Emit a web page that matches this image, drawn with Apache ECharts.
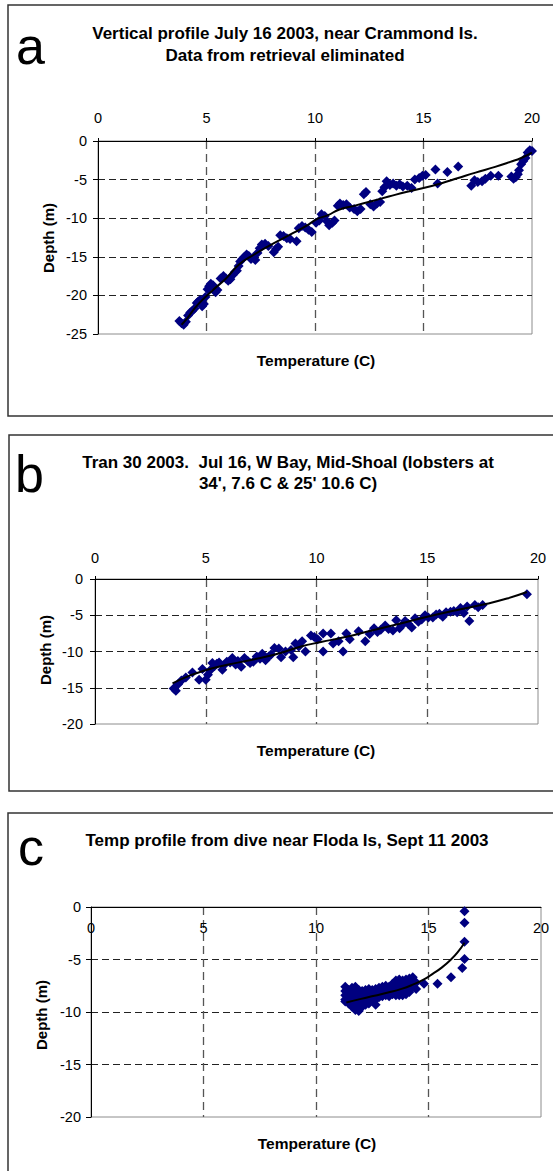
<!DOCTYPE html>
<html><head><meta charset="utf-8">
<script src="https://cdn.jsdelivr.net/npm/echarts@6/dist/echarts.min.js"></script>
<style>html,body{margin:0;padding:0;background:#fff}#c{width:553px;height:1171px}</style>
</head><body><div id="c"></div>
<script>
// ---- data (temperature C, depth m) ----
const xTickMin = 0, xTickMax = 20, tickStep = 5;

const aTitle = "Vertical profile July 16 2003, near Crammond Is.\nData from retrieval eliminated";
const aTemp = [3.75,3.85,3.95,4.05,4.15,4.25,4.35,4.45,4.55,4.62,4.7,4.8,4.88,4.95,5.05,5.12,5.2,5.3,5.42,5.5,5.65,5.78,5.9,6.0,6.1,6.2,6.3,6.4,6.48,6.55,6.65,6.75,6.85,6.95,7.05,7.15,7.25,7.35,7.45,7.55,7.7,7.85,8.1,8.2,8.3,8.4,8.55,8.7,8.85,9.15,9.25,9.4,9.55,9.7,9.85,10.05,10.2,10.3,10.45,10.55,10.65,10.8,10.9,11.05,11.15,11.3,11.45,11.6,11.8,11.95,12.1,12.25,12.35,12.55,12.7,12.85,13.0,13.1,13.2,13.3,13.45,13.6,13.75,13.9,14.05,14.25,14.45,14.6,14.8,14.95,15.1,15.55,15.65,16.1,16.6,17.2,17.35,17.5,17.7,17.85,18.1,18.45,19.05,19.15,19.25,19.35,19.4,19.5,19.6,19.7,19.8,19.9,20.0];
const aDepth = [-23.3,-23.6,-23.8,-23.4,-22.6,-22.2,-22.0,-21.7,-21.0,-20.8,-20.6,-21.4,-21.1,-20.2,-19.2,-18.8,-18.5,-18.7,-19.6,-19.3,-17.8,-17.5,-17.8,-18.1,-17.9,-17.4,-17.0,-16.8,-16.2,-15.6,-15.3,-15.0,-14.7,-14.9,-15.3,-15.1,-15.4,-14.5,-13.9,-13.4,-13.3,-13.6,-14.4,-14.0,-13.7,-12.2,-12.3,-12.6,-12.7,-13.0,-11.3,-11.0,-11.2,-11.5,-11.8,-10.6,-10.3,-9.5,-9.7,-10.4,-10.9,-10.6,-10.3,-8.4,-8.1,-8.3,-8.2,-8.6,-8.8,-9.1,-8.8,-6.9,-6.6,-8.2,-8.5,-8.1,-7.9,-6.5,-6.0,-5.2,-5.7,-5.5,-5.8,-5.6,-5.9,-5.8,-6.1,-5.0,-4.8,-4.5,-4.4,-3.7,-5.5,-4.0,-3.3,-5.8,-5.1,-5.3,-5.2,-4.9,-4.5,-4.5,-4.6,-4.9,-4.7,-4.3,-3.8,-3.0,-2.6,-2.2,-1.5,-1.2,-1.3];
const aTrendTemp  = [3.85,4.1,4.6,5.3,5.9,6.5,7.2,7.8,8.4,9.0,9.6,10.1,10.6,11.1,11.8,12.6,13.4,14.2,15.0,15.8,16.6,17.4,18.3,19.0,19.5,20.0];
const aTrendDepth = [-23.8,-23.0,-21.2,-19.3,-17.8,-16.0,-14.7,-13.7,-12.8,-11.9,-11.0,-10.1,-9.6,-8.9,-8.4,-7.8,-7.2,-6.6,-6.1,-5.5,-4.8,-4.1,-3.35,-2.7,-2.2,-1.5];
const aDepthTicks = [-25,0];

const bTitle = "Tran 30 2003.  Jul 16, W Bay, Mid-Shoal (lobsters at\n34', 7.6 C & 25' 10.6 C)";
const bTemp = [3.55,3.65,3.75,3.9,4.1,4.4,4.7,4.85,5.0,5.1,5.2,5.3,5.4,5.5,5.6,5.75,5.85,5.95,6.1,6.2,6.35,6.45,6.6,6.75,6.9,7.0,7.15,7.3,7.45,7.55,7.7,7.85,7.95,8.1,8.3,8.4,8.6,8.85,8.95,9.05,9.2,9.35,9.5,9.75,9.9,10.05,10.3,10.3,10.65,10.75,11.0,11.2,11.35,11.5,11.9,12.2,12.4,12.6,12.75,12.9,13.1,13.25,13.45,13.6,13.75,13.85,14.0,14.15,14.3,14.45,14.6,14.75,14.9,15.05,15.25,15.4,15.55,15.7,15.85,16.05,16.2,16.35,16.5,16.65,16.8,16.9,17.15,17.3,17.5,19.5];
const bDepth = [-15.1,-15.4,-14.5,-14.0,-13.6,-12.9,-13.9,-12.4,-13.9,-13.2,-12.6,-11.6,-12.0,-11.7,-11.5,-12.5,-11.8,-11.4,-11.5,-10.9,-11.8,-11.3,-12.1,-10.9,-11.3,-11.6,-11.4,-10.7,-11.0,-10.3,-11.2,-10.7,-10.4,-9.5,-9.6,-10.8,-10.0,-9.8,-10.8,-8.9,-9.3,-8.6,-10.0,-7.8,-8.0,-8.3,-7.5,-10.0,-7.5,-8.9,-8.6,-10.0,-7.5,-8.3,-7.2,-8.6,-7.6,-6.8,-7.3,-7.0,-6.4,-6.9,-7.1,-5.7,-6.8,-6.4,-5.8,-6.2,-6.7,-5.4,-5.9,-5.6,-5.0,-5.3,-5.3,-4.9,-4.8,-5.2,-4.6,-4.5,-4.4,-4.6,-4.0,-4.7,-3.8,-5.8,-3.6,-3.9,-3.6,-2.1];
const bTrendTemp  = [3.5,4.3,5.3,6.5,7.75,8.6,9.3,10.2,11.3,12.5,13.7,15.0,16.3,17.7,18.6,19.5];
const bTrendDepth = [-14.4,-13.3,-12.3,-11.5,-10.7,-10.0,-9.3,-8.7,-8.0,-7.1,-6.2,-5.2,-4.3,-3.4,-2.7,-1.8];
const bDepthTicks = [-20,0];

const cTitle = "Temp profile from dive near Floda Is, Sept 11 2003";
const cTemp = [11.3,11.3,11.3,11.3,11.3,11.45,11.45,11.45,11.45,11.6,11.6,11.6,11.6,11.6,11.75,11.75,11.75,11.75,11.75,11.9,11.9,11.9,11.9,11.9,12.05,12.05,12.05,12.05,12.2,12.2,12.2,12.2,12.35,12.35,12.35,12.35,12.5,12.5,12.5,12.65,12.65,12.65,12.65,12.8,12.8,12.8,12.95,12.95,12.95,13.1,13.1,13.1,13.25,13.25,13.25,13.4,13.4,13.4,13.55,13.55,13.55,13.55,13.7,13.7,13.7,13.7,13.85,13.85,13.85,13.85,14.0,14.0,14.0,14.0,14.15,14.15,14.15,14.15,14.3,14.3,14.3,14.45,14.45,14.8,15.4,16.0,16.5,16.6,16.6,16.6,16.6];
const cDepth = [-7.6,-8.0,-8.4,-8.8,-9.0,-7.9,-8.3,-8.7,-9.2,-7.7,-8.1,-8.6,-9.1,-9.5,-7.6,-8.2,-8.8,-9.4,-9.8,-7.9,-8.4,-9.0,-9.6,-9.9,-8.0,-8.5,-9.1,-9.5,-7.9,-8.4,-8.9,-9.3,-7.8,-8.3,-8.8,-9.2,-7.9,-8.4,-8.9,-7.8,-8.3,-8.8,-9.3,-7.7,-8.2,-8.6,-7.6,-8.0,-8.5,-7.5,-8.0,-8.4,-7.6,-8.1,-8.5,-7.3,-7.8,-8.3,-7.0,-7.5,-8.0,-8.4,-6.9,-7.4,-7.9,-8.4,-7.0,-7.5,-8.0,-8.4,-6.9,-7.3,-7.8,-8.3,-6.8,-7.3,-7.7,-8.1,-6.7,-7.1,-7.6,-7.2,-7.8,-7.3,-7.3,-6.7,-5.8,-4.95,-3.3,-1.5,-0.4];
const cTrendTemp  = [11.35,12.0,12.6,13.2,13.8,14.3,14.8,15.2,15.6,16.0,16.3,16.6];
const cTrendDepth = [-9.1,-8.75,-8.45,-8.15,-7.8,-7.4,-6.9,-6.35,-5.75,-5.0,-4.3,-3.4];
const cDepthTicks = [-20,0];

const xName = "Temperature (C)";
const yName = "Depth (m)";
const panelLetters = ["a","b","c"];

// ---- build ----
const pairs = (xs, ys) => xs.map((x, i) => [x, ys[i]]);
const FONT = "'Liberation Sans', Arial, sans-serif";
const panels = [
  {grid:{left:98, top:141, width:434, height:193}, depth:aDepthTicks, lblMargin:16, inside:false, yMargin:11,
   pts:pairs(aTemp,aDepth), trend:pairs(aTrendTemp,aTrendDepth)},
  {grid:{left:95, top:579, width:443, height:145}, depth:bDepthTicks, lblMargin:14, inside:false, yMargin:12,
   pts:pairs(bTemp,bDepth), trend:pairs(bTrendTemp,bTrendDepth)},
  {grid:{left:91, top:907, width:450, height:210}, depth:cDepthTicks, lblMargin:13, inside:true, yMargin:10,
   pts:pairs(cTemp,cDepth), trend:pairs(cTrendTemp,cTrendDepth)}
];

const grids = [], xAxes = [], yAxes = [], series = [];
panels.forEach((p, i) => {
  grids.push(Object.assign({show:true, borderColor:'#8c8c8c', borderWidth:1, backgroundColor:'transparent'}, p.grid));
  xAxes.push({
    type:'value', gridIndex:i, position:'top', min:xTickMin, max:xTickMax, interval:tickStep,
    axisLine:{show:true, onZero:false, lineStyle:{color:'#000', width:1}},
    axisTick:{show:!p.inside, length:3, lineStyle:{color:'#000'}},
    axisLabel:{show:true, inside:p.inside, margin:p.lblMargin, color:'#000', fontSize:14.5, fontFamily:FONT},
    splitLine:{show:true, showMinLine:false, showMaxLine:false, lineStyle:{color:'#555', width:1.3, type:[8,5]}}
  });
  yAxes.push({
    type:'value', gridIndex:i, min:p.depth[0], max:p.depth[1], interval:tickStep,
    axisLine:{show:true, onZero:false, lineStyle:{color:'#000', width:1}},
    axisTick:{show:true, length:5, lineStyle:{color:'#000'}},
    axisLabel:{margin:p.yMargin, color:'#000', fontSize:14.5, fontFamily:FONT},
    splitLine:{show:true, showMinLine:false, showMaxLine:false, lineStyle:{color:'#222', width:1, type:[7,4]}}
  });
  series.push({type:'scatter', xAxisIndex:i, yAxisIndex:i, data:p.pts, symbol:'diamond', symbolSize:10,
    itemStyle:{color:'#000080', opacity:1}, z:2, silent:true});
  series.push({type:'line', xAxisIndex:i, yAxisIndex:i, data:p.trend, smooth:true, symbol:'none',
    lineStyle:{color:'#000', width:2}, z:3, silent:true});
});

const txt = (text, x, y, size, weight, extra) => Object.assign({
  type:'text', x, y, silent:true,
  style:{text, fill:'#000', font: weight + ' ' + size + 'px ' + FONT, align:'center', verticalAlign:'middle'}
}, extra || {});

const graphic = [
  {type:'rect', shape:{x:8, y:5, width:560, height:411}, style:{fill:'none', stroke:'#333', lineWidth:1.5}, silent:true},
  {type:'rect', shape:{x:9, y:435, width:560, height:356}, style:{fill:'none', stroke:'#333', lineWidth:1.5}, silent:true},
  {type:'rect', shape:{x:8, y:813, width:560, height:400}, style:{fill:'none', stroke:'#333', lineWidth:1.5}, silent:true},
  txt(panelLetters[0], 30.5, 46, 52, 'normal'),
  txt(panelLetters[1], 29.5, 474, 52, 'normal'),
  txt(panelLetters[2], 31, 847, 52, 'normal'),
  (function(){const t = txt(aTitle, 285, 44, 17, 'bold'); t.style.lineHeight = 22; return t;})(),
  (function(){const t = txt(bTitle, 288, 472.5, 17, 'bold'); t.style.lineHeight = 21; return t;})(),
  txt(cTitle, 287, 840, 17, 'bold'),
  txt(xName, 316, 360, 15.5, 'bold'),
  txt(xName, 316, 750, 15.5, 'bold'),
  txt(xName, 317, 1143, 15.5, 'bold'),
  txt(yName, 48, 238, 15, 'bold', {rotation:Math.PI/2}),
  txt(yName, 45, 650, 15, 'bold', {rotation:Math.PI/2}),
  txt(yName, 41, 1015, 15, 'bold', {rotation:Math.PI/2})
];

const chart = echarts.init(document.getElementById('c'), null, {renderer:'svg', width:553, height:1171});
chart.setOption({
  animation:false, backgroundColor:'#fff',
  textStyle:{fontFamily:FONT},
  grid:grids, xAxis:xAxes, yAxis:yAxes, series, graphic
});
</script></body></html>
